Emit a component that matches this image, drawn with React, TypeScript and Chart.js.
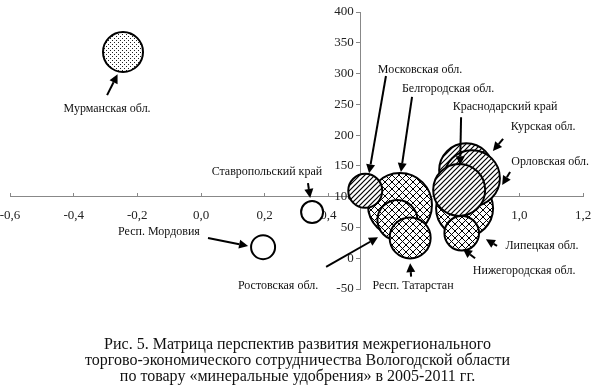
import React, { useEffect, useRef } from 'react';
import { Chart, registerables } from 'chart.js';
Chart.register(...registerables);

// ---- data ----
const regions = [
  'Мурманская обл.', 'Ставропольский край', 'Респ. Мордовия', 'Белгородская обл.',
  'Московская обл.', 'Ростовская обл.', 'Респ. Татарстан', 'Липецкая обл.',
  'Курская обл.', 'Орловская обл.', 'Краснодарский край', 'Нижегородская обл.',
];
const xValues = [-0.245, 0.349, 0.195, 0.625, 0.516, 0.617, 0.657, 0.828, 0.833, 0.851, 0.811, 0.819];
const yValues = [335, 75, 18, 86.5, 109.5, 62, 33, 81, 143, 130, 111, 40.5];
const bubbleSizes = [20, 11, 12, 32, 17, 20, 20.5, 28.5, 27, 28, 26, 17.3];
const fillKinds = ['dots', 'none', 'none', 'cross', 'hatch', 'cross', 'cross', 'cross', 'hatch', 'hatch', 'hatch', 'cross'];

const xTicks = [-0.6, -0.4, -0.2, 0, 0.2, 0.4, 0.6, 0.8, 1.0, 1.2];
const yTicks = [-50, 0, 50, 100, 150, 200, 250, 300, 350, 400];

// label callouts in data coordinates: text position, arrow tail, arrow tip
const callouts = [
  { text: 'Мурманская обл.', tx: -0.295, ty: 242, x1: -0.295, y1: 265, x2: -0.262, y2: 299 },
  { text: 'Ставропольский край', tx: 0.207, ty: 140, x1: 0.336, y1: 122, x2: 0.343, y2: 98 },
  { text: 'Респ. Мордовия', tx: -0.132, ty: 43, x1: 0.022, y1: 33, x2: 0.148, y2: 20 },
  { text: 'Ростовская обл.', tx: 0.242, ty: -45, x1: 0.393, y1: -14, x2: 0.556, y2: 34 },
  { text: 'Московская обл.', tx: 0.688, ty: 306, x1: 0.581, y1: 296, x2: 0.528, y2: 138 },
  { text: 'Белгородская обл.', tx: 0.776, ty: 275, x1: 0.663, y1: 262, x2: 0.628, y2: 140 },
  { text: 'Краснодарский край', tx: 0.955, ty: 246, x1: 0.817, y1: 229, x2: 0.814, y2: 151 },
  { text: 'Курская обл.', tx: 1.075, ty: 213, x1: 0.949, y1: 194, x2: 0.917, y2: 174 },
  { text: 'Орловская обл.', tx: 1.097, ty: 156, x1: 0.971, y1: 140, x2: 0.946, y2: 119 },
  { text: 'Липецкая обл.', tx: 1.071, ty: 20, x1: 0.93, y1: 20, x2: 0.895, y2: 31 },
  { text: 'Нижегородская обл.', tx: 1.015, ty: -21, x1: 0.861, y1: 0, x2: 0.823, y2: 15 },
  { text: 'Респ. Татарстан', tx: 0.666, ty: -45, x1: 0.66, y1: -30, x2: 0.657, y2: -8 },
];

const captionLines = [
  'Рис. 5. Матрица перспектив развития межрегионального',
  'торгово-экономического сотрудничества Вологодской области',
  'по товару «минеральные удобрения» в 2005-2011 гг.',
];

const SERIF = '"Liberation Serif", "Times New Roman", serif';

function makePattern(kind: string): CanvasPattern | string {
  if (kind === 'none') return '#ffffff';
  const c = document.createElement('canvas');
  const ctx = c.getContext('2d')!;
  if (kind === 'hatch') {
    const s = 5;
    c.width = s; c.height = s;
    ctx.fillStyle = '#fff'; ctx.fillRect(0, 0, s, s);
    ctx.strokeStyle = '#000'; ctx.lineWidth = 1.2;
    ctx.beginPath();
    ctx.moveTo(-1, s + 1); ctx.lineTo(s + 1, -1);
    ctx.moveTo(-1, 1); ctx.lineTo(1, -1);
    ctx.moveTo(s - 1, s + 1); ctx.lineTo(s + 1, s - 1);
    ctx.stroke();
  } else if (kind === 'cross') {
    const s = 7;
    c.width = s; c.height = s;
    ctx.fillStyle = '#fff'; ctx.fillRect(0, 0, s, s);
    ctx.strokeStyle = '#000'; ctx.lineWidth = 1;
    ctx.beginPath();
    ctx.moveTo(-1, s + 1); ctx.lineTo(s + 1, -1);
    ctx.moveTo(-1, -1); ctx.lineTo(s + 1, s + 1);
    ctx.stroke();
  } else {
    const s = 4;
    c.width = s; c.height = s;
    ctx.fillStyle = '#fff'; ctx.fillRect(0, 0, s, s);
    ctx.fillStyle = '#222';
    ctx.fillRect(0, 0, 1, 1);
    ctx.fillRect(2, 2, 1, 1);
  }
  return ctx.createPattern(c, 'repeat')!;
}

const calloutPlugin = {
  id: 'callouts',
  afterDatasetsDraw(chart: any) {
    const { ctx, scales } = chart;
    const xs = scales.x, ys = scales.y;
    ctx.save();
    ctx.font = `12px ${SERIF}`;
    ctx.textAlign = 'center';
    ctx.textBaseline = 'middle';
    ctx.strokeStyle = '#000';
    ctx.lineWidth = 2;
    for (const c of callouts) {
      ctx.fillStyle = '#111';
      ctx.fillText(c.text, xs.getPixelForValue(c.tx), ys.getPixelForValue(c.ty));
      const ax = xs.getPixelForValue(c.x1), ay = ys.getPixelForValue(c.y1);
      const bx = xs.getPixelForValue(c.x2), by = ys.getPixelForValue(c.y2);
      const ang = Math.atan2(by - ay, bx - ax);
      const hl = 9, hw = 4.5;
      const baseX = bx - hl * Math.cos(ang), baseY = by - hl * Math.sin(ang);
      ctx.beginPath();
      ctx.moveTo(ax, ay);
      ctx.lineTo(baseX, baseY);
      ctx.stroke();
      ctx.beginPath();
      ctx.moveTo(bx, by);
      ctx.lineTo(baseX + hw * Math.sin(ang), baseY - hw * Math.cos(ang));
      ctx.lineTo(baseX - hw * Math.sin(ang), baseY + hw * Math.cos(ang));
      ctx.closePath();
      ctx.fillStyle = '#000';
      ctx.fill();
    }
    ctx.restore();
  },
};

const fmtX = (v: number) => (Math.abs(v) < 1e-9 ? 0 : v).toFixed(1).replace('.', ',');
const noPad = (s: any) => { s.paddingLeft = 0; s.paddingRight = 0; s.paddingTop = 0; s.paddingBottom = 0; };

export default function App() {
  const ref = useRef<HTMLCanvasElement>(null);
  useEffect(() => {
    if (!ref.current) return;
    const patterns = fillKinds.map(makePattern);
    const chart = new Chart(ref.current, {
      type: 'bubble',
      data: {
        labels: regions,
        datasets: [{
          label: 'regions',
          data: xValues.map((x, i) => ({ x, y: yValues[i], r: bubbleSizes[i] })),
          backgroundColor: patterns as any,
          borderColor: '#000',
          borderWidth: 2,
          hoverBorderWidth: 2,
          clip: false as any,
        }],
      },
      options: {
        animation: false,
        responsive: false,
        events: [],
        layout: { autoPadding: false, padding: { left: 10, right: 12, top: 12, bottom: 96 } },
        plugins: { legend: { display: false }, tooltip: { enabled: false } },
        scales: {
          x: {
            type: 'linear',
            min: -0.6, max: 1.2,
            position: { y: 100 } as any,
            afterBuildTicks: (s: any) => { s.ticks = xTicks.map((v) => ({ value: v })); },
            afterFit: noPad,
            grid: { drawOnChartArea: false, drawTicks: true, tickLength: -4, color: '#888' },
            border: { color: '#888', width: 1 },
            ticks: {
              padding: 15,
              color: '#222',
              font: { family: SERIF, size: 13 },
              maxRotation: 0,
              autoSkip: false,
              callback: (v: any) => fmtX(Number(v)),
            },
          },
          y: {
            type: 'linear',
            min: -50, max: 400,
            position: { x: 0.5 } as any,
            afterBuildTicks: (s: any) => { s.ticks = yTicks.map((v) => ({ value: v })); },
            afterFit: noPad,
            grid: { drawOnChartArea: false, drawTicks: true, tickLength: 4, color: '#888' },
            border: { color: '#888', width: 1 },
            ticks: {
              padding: 4,
              color: '#222',
              font: { family: SERIF, size: 13 },
              autoSkip: false,
              callback: (v: any) => String(v) + '  ',
            },
          },
        },
      },
      plugins: [calloutPlugin],
    });
    return () => chart.destroy();
  }, []);

  return (
    <div style={{ position: 'fixed', left: 0, top: 0, width: 595, height: 385, background: '#fff', overflow: 'hidden' }}>
      <canvas ref={ref} width={595} height={385} style={{ position: 'absolute', left: 0, top: 0 }} />
      <div style={{
        position: 'absolute', left: 0, top: 336, width: 595, textAlign: 'center',
        fontFamily: SERIF, fontSize: 16, lineHeight: '16px', color: '#111', whiteSpace: 'nowrap',
      }}>
        {captionLines.map((l, i) => <div key={i}>{l}</div>)}
      </div>
    </div>
  );
}
